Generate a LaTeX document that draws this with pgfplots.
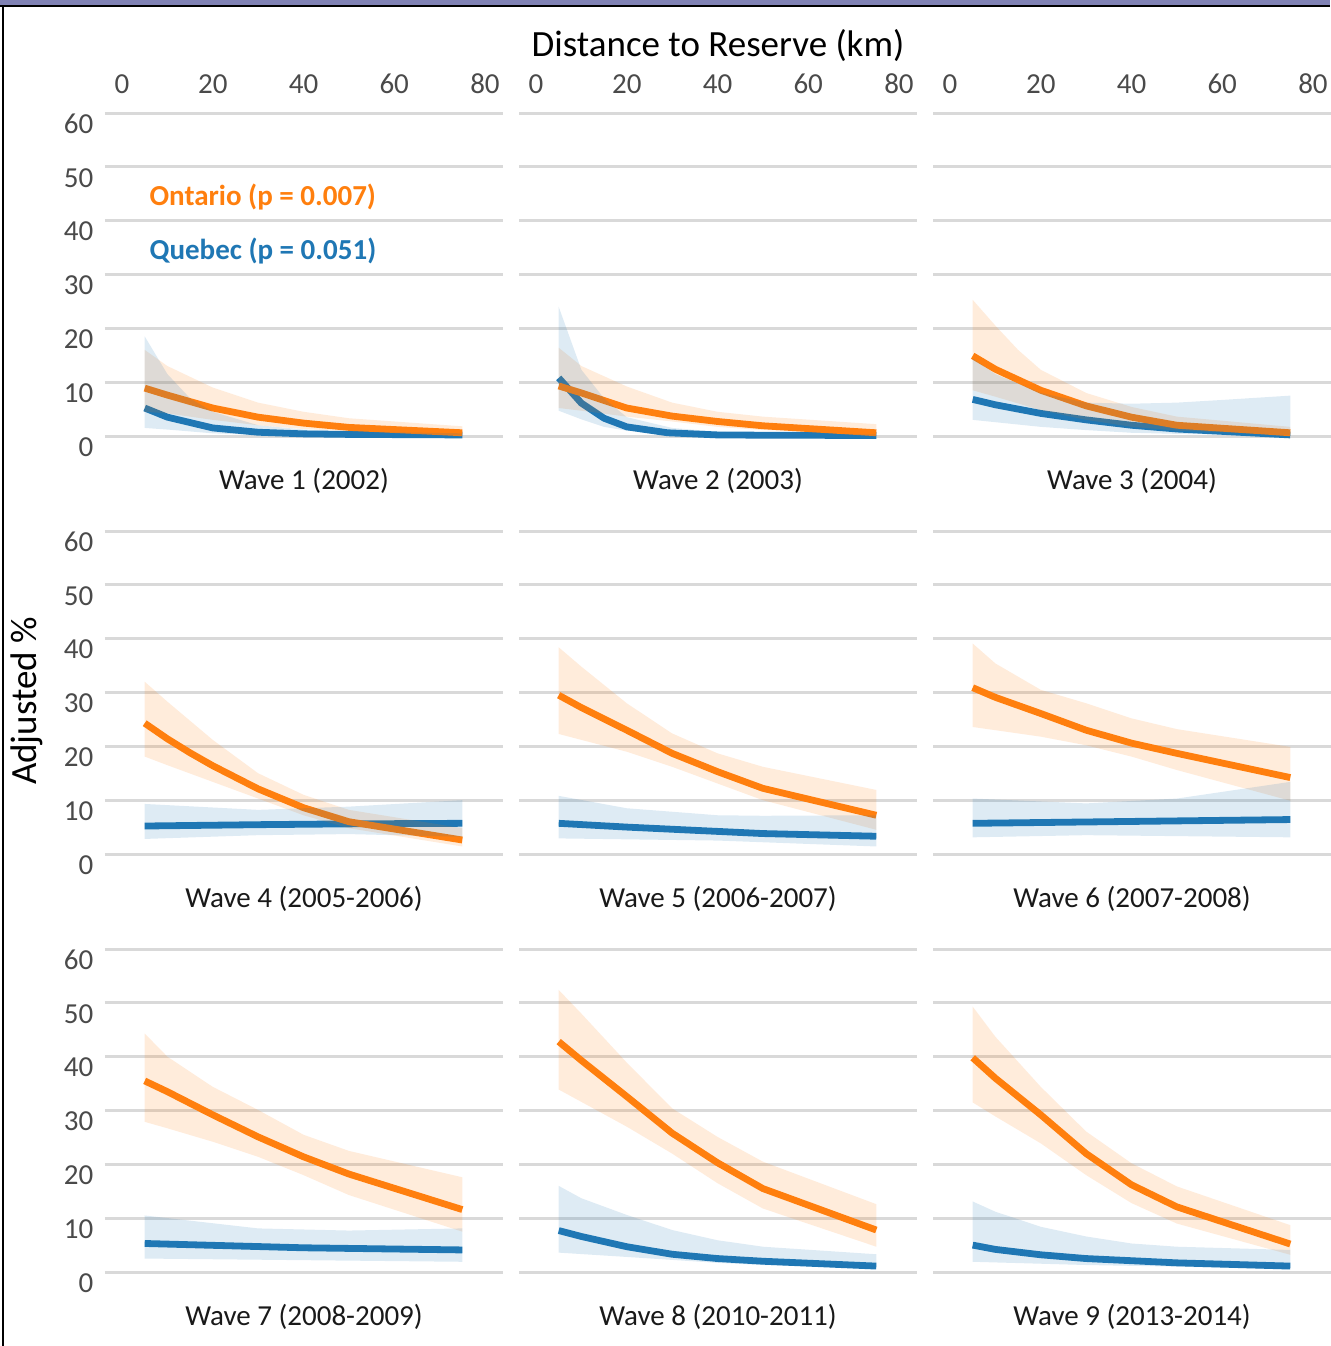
\documentclass[border=0pt]{standalone}
\usepackage{pgfplots}
\pgfplotsset{compat=1.18}
\usepackage{fontspec}
\setmainfont{Carlito}
\definecolor{ora}{HTML}{FF7F0E}
\definecolor{blu}{HTML}{1F77B4}
\definecolor{tickc}{HTML}{4A4A4A}
\definecolor{gridc}{HTML}{D9D9D9}
\definecolor{framec}{RGB}{128,130,180}
\newcommand{\fs}{\fontsize{14.5}{17}\selectfont}
\tikzset{
 lw/.style={line width=3.4pt, line join=round},
 ttl/.style={font=\fs, text=black!90},
}
\pgfplotsset{
 base/.style={
  scale only axis, width=199pt, height=161.5pt,
  xmin=-3.75, xmax=83.97, ymin=0, ymax=60,
  axis line style={draw=none},
  major tick length=0pt,
  ytick={0,10,...,60}, xtick={0,20,...,80},
  ymajorgrids, grid style={gridc, line width=1.5pt},
  xticklabels={}, yticklabels={},
  clip=false, anchor=north west,
  tick label style={font=\fs, text=tickc},
  /pgf/number format/assume math mode=true,
  yticklabel style={xshift=-2.3pt, yshift=-5.5pt},
  xticklabel style={yshift=6.3pt},
 },
 leftcol/.style={yticklabels={0,10,20,30,40,50,60}},
 toprow/.style={xticklabel pos=top, xticklabels={0,20,40,60,80}},
}
% #1 pos, #2 opts, #3 title, #4 orange line, #5 orange band, #6 blue line, #7 blue band, #8 extra
\newcommand{\panel}[8]{%
 \begin{axis}[base, at={(#1)}, #2]
  \addplot[blu, lw] coordinates {#6};
  \addplot[ora, lw] coordinates {#4};
  \addplot[fill=ora, fill opacity=0.15, draw=none] coordinates {#5} -- cycle;
  \addplot[fill=blu, fill opacity=0.15, draw=none] coordinates {#7} -- cycle;
  \node[ttl] at (rel axis cs:0.5,0) [yshift=-22.5pt] {#3};
  #8
 \end{axis}}
\begin{document}
\begin{tikzpicture}
\path[use as bounding box] (0pt,0pt) rectangle (665pt,-673pt);
% Row 1
\panel{52.5pt,-56.5pt}{leftcol,toprow}{Wave 1 (2002)}
 {(5,8.9)(10,7.6)(20,5.2)(30,3.5)(40,2.4)(50,1.6)(75,0.6)}
 {(5,16)(10,13)(20,9)(30,6.2)(40,4.5)(50,3.3)(75,1.8)(75,0.2)(50,0.9)(40,1.3)(30,2)(20,3)(10,4.2)(5,4.5)}
 {(5,5.2)(10,3.5)(20,1.5)(30,0.7)(40,0.4)(50,0.3)(75,0.2)}
 {(5,18.5)(10,11.5)(15,7)(20,4.5)(30,2)(40,1.2)(50,0.8)(75,0.5)(75,0.05)(50,0.1)(40,0.1)(30,0.2)(20,0.5)(10,1.2)(5,1.5)}
 {\node[font=\fs\bfseries, text=ora, anchor=west, inner sep=0pt] at (axis cs:6,44.4) {Ontario (p = 0.007)};
  \node[font=\fs\bfseries, text=blu, anchor=west, inner sep=0pt] at (axis cs:6,34.4) {Quebec (p = 0.051)};}
\panel{259.5pt,-56.5pt}{toprow}{Wave 2 (2003)}
 {(5,9.3)(10,8.0)(20,5.2)(30,3.7)(40,2.7)(50,1.9)(75,0.6)}
 {(5,16.4)(10,13)(20,9.2)(30,6.2)(40,4.5)(50,3.6)(75,2.2)(75,0.4)(50,1.1)(40,1.7)(30,2.7)(20,3.6)(10,4.7)(5,5.2)}
 {(5,10.8)(10,6.1)(15,3.3)(20,1.7)(29,0.6)(40,0.2)(50,0.15)(75,0.1)}
 {(5,24)(10,12.3)(15,7)(20,3.5)(30,1.5)(40,0.8)(50,0.5)(75,0.3)(75,0.02)(50,0.05)(40,0.1)(30,0.4)(20,1)(15,1.7)(10,3.1)(5,4.7)}
 {}
\panel{466.5pt,-56.5pt}{toprow}{Wave 3 (2004)}
 {(5,14.9)(10,12.4)(20,8.5)(30,5.6)(40,3.5)(50,2.0)(75,0.6)}
 {(5,25.3)(10,20.5)(15,16)(20,12.3)(30,8)(40,5.4)(50,3.6)(75,1.7)(75,0.2)(50,1)(40,1.7)(30,3)(20,4.8)(10,7.3)(5,8.5)}
 {(5,6.8)(10,5.8)(20,4.2)(30,3)(40,2)(50,1.3)(75,0.2)}
 {(5,14.4)(10,11.5)(20,8)(30,6.2)(40,6)(50,6.2)(60,6.7)(75,7.5)(75,0.1)(50,0.4)(40,0.6)(30,1.1)(20,1.7)(5,3.0)}
 {}
% Row 2
\panel{52.5pt,-265.5pt}{leftcol}{Wave 4 (2005-2006)}
 {(5,24.3)(10,21.4)(15,18.8)(20,16.4)(30,12.1)(40,8.6)(50,6.0)(75,2.6)}
 {(5,32)(10,28.3)(20,21.2)(30,15)(40,11)(50,8.2)(75,4.8)(75,1.4)(50,4.8)(40,7.2)(30,10.3)(20,13.4)(10,16.5)(5,18.1)}
 {(5,5.2)(30,5.45)(50,5.6)(75,5.7)}
 {(5,9.3)(30,8.2)(50,8.8)(75,10)(75,3.2)(50,3.7)(30,3.5)(5,2.8)}
 {}
\panel{259.5pt,-265.5pt}{}{Wave 5 (2006-2007)}
 {(5,29.5)(10,27.2)(20,23)(30,18.7)(40,15.3)(50,12.2)(75,7.2)}
 {(5,38.4)(10,34.8)(20,28)(30,22.4)(40,18.7)(50,16.2)(75,11.9)(75,4.5)(50,10)(40,13.1)(30,16.2)(20,19)(10,21.2)(5,22.3)}
 {(5,5.7)(20,5.0)(40,4.2)(50,3.8)(75,3.3)}
 {(5,10.8)(20,8.5)(40,7.2)(50,7.1)(75,7.2)(75,1.4)(40,2.5)(5,2.9)}
 {}
\panel{466.5pt,-265.5pt}{}{Wave 6 (2007-2008)}
 {(5,30.9)(10,29.1)(20,26.1)(30,23)(40,20.6)(50,18.7)(75,14.2)}
 {(5,39.1)(10,35.4)(20,30.5)(30,28)(40,25.2)(50,23.2)(75,19.9)(75,9.9)(50,15.6)(40,18.1)(30,20.2)(20,21.8)(10,23)(5,23.6)}
 {(5,5.7)(40,6.05)(75,6.4)}
 {(5,10.3)(30,9.4)(50,10.3)(75,13.4)(75,3.1)(30,3.5)(5,3.1)}
 {}
% Row 3
\panel{52.5pt,-474.5pt}{leftcol}{Wave 7 (2008-2009)}
 {(5,35.5)(10,33.5)(20,29.2)(30,25.1)(40,21.4)(50,18.2)(75,11.6)}
 {(5,44.3)(10,40)(20,34.4)(30,30.1)(40,25.5)(50,22.5)(75,17.6)(75,7.5)(50,14.3)(40,18)(30,21.4)(20,24.2)(10,26.7)(5,27.9)}
 {(5,5.3)(40,4.5)(75,4.1)}
 {(5,10.5)(30,8.1)(50,7.7)(75,8.1)(75,1.9)(5,2.5)}
 {}
\panel{259.5pt,-474.5pt}{}{Wave 8 (2010-2011)}
 {(5,42.8)(10,39.3)(20,32.6)(30,25.8)(40,20.3)(50,15.5)(75,7.8)}
 {(5,52.4)(10,48)(20,38.9)(30,30.4)(40,25.1)(50,20.5)(75,12.6)(75,4.7)(50,11.8)(40,16.5)(30,22)(20,27)(10,31.6)(5,33.9)}
 {(5,7.7)(10,6.6)(20,4.7)(30,3.3)(40,2.5)(50,2.0)(75,1.1)}
 {(5,16)(10,13.7)(20,10.6)(30,7.8)(40,5.9)(50,4.7)(75,3.3)(75,0.7)(50,1.3)(40,1.7)(20,2.8)(5,3.6)}
 {}
\panel{466.5pt,-474.5pt}{}{Wave 9 (2013-2014)}
 {(5,39.8)(10,36)(20,29.2)(30,22)(40,16.2)(50,12.1)(75,5.2)}
 {(5,49.3)(10,43.7)(20,34.4)(30,26.1)(40,20.2)(50,15.9)(75,8.7)(75,3.2)(50,9)(40,12.8)(30,18)(20,23.9)(10,28.9)(5,31.5)}
 {(5,5.0)(10,4.2)(20,3.2)(30,2.5)(40,2.1)(50,1.7)(75,1.1)}
 {(5,13.1)(10,11.2)(20,8.4)(30,6.6)(40,5.3)(50,4.7)(75,4.1)(75,0.5)(50,1.0)(30,1.3)(5,1.9)}
 {}
% titles
\node[font=\fontsize{18.5}{22}\selectfont] at (359pt,-23pt) {Distance to Reserve (km)};
\node[font=\fontsize{18.5}{22}\selectfont, rotate=90] at (13.5pt,-350.5pt) {Adjusted \%};
% screenshot frame
\fill[framec] (0pt,0pt) rectangle (665pt,-2.5pt);
\draw[black, line width=1pt] (0pt,-3pt) -- (665pt,-3pt);
\draw[black, line width=1pt] (1.6pt,-3pt) -- (1.6pt,-673pt);
\end{tikzpicture}
\end{document}
